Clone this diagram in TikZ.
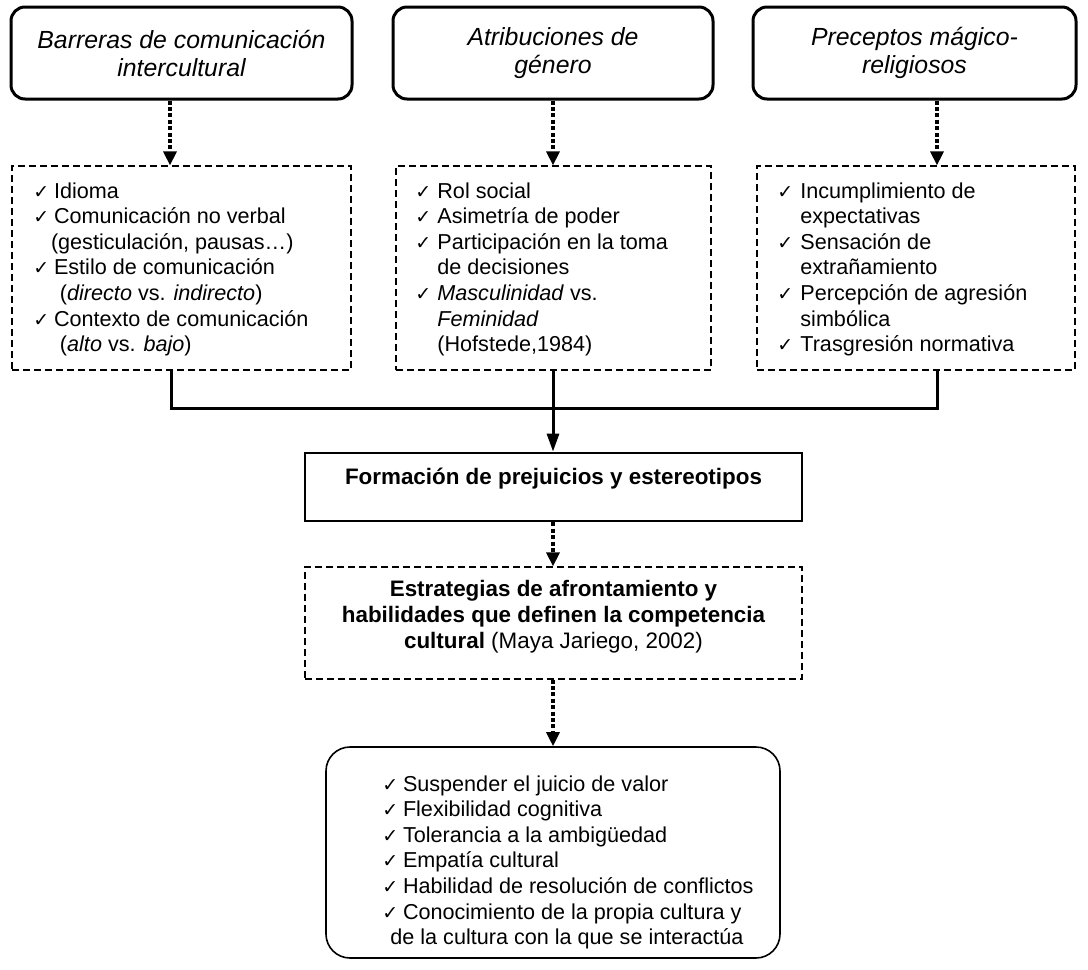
\documentclass[tikz,border=0pt]{standalone}
\usepackage{fontspec}
\setmainfont{Liberation Sans}
\newfontfamily\symfont{DejaVu Sans}
\usetikzlibrary{arrows.meta}
\newcommand{\ck}{\makebox[10.3pt][l]{\symfont\fontsize{9.5}{9.5}\selectfont ✓}}
\begin{document}
\begin{tikzpicture}[x=0.5pt,y=-0.5pt,
  titlebox/.style={draw, line width=1.5pt, rounded corners=7pt, inner sep=0pt, align=center,
    font=\fontsize{12.4}{14}\selectfont\itshape},
  listbox/.style={draw, line width=0.6pt, dash pattern=on 3.5pt off 2pt, inner sep=0pt},
  listtext/.style={inner sep=0pt, anchor=base west, font=\fontsize{10.8}{12.8}\selectfont},
  formbox/.style={draw, line width=1.4pt, inner sep=0pt},
  compbox/.style={draw, line width=0.8pt, rounded corners=12pt, inner sep=0pt},
  boldtext/.style={inner sep=0pt, align=center, font=\fontsize{11.2}{13}\selectfont\bfseries},
  dotarrow/.style={line width=1.6pt, dash pattern=on 2pt off 1.2pt, -{Triangle[width=6.5pt,length=7pt]}},
  conn/.style={line width=1.5pt},
  connarrow/.style={line width=1.5pt, -{Triangle[width=6pt,length=9pt]}}
]
\useasboundingbox (0,0) rectangle (1088,970);

% top title boxes
\node[titlebox, minimum width=170.5pt, minimum height=46pt] (t1) at (181.5,53) {Barreras de comunicación\\intercultural};
\node[titlebox, minimum width=160pt, minimum height=46pt] (t2) at (553,53) {Atribuciones de\\género};
\node[titlebox, minimum width=161.5pt, minimum height=46pt] (t3) at (914.5,53) {Preceptos mágico-\\religiosos};

% dashed list boxes
\node[listbox, minimum width=169.5pt, minimum height=102pt] (l1) at (181.5,268) {};
\node[listbox, minimum width=157.5pt, minimum height=102pt] (l2) at (553.5,268) {};
\node[listbox, minimum width=159pt, minimum height=102pt] (l3) at (916,268) {};

\node[listtext] (l1t) at (33,198) {\begin{tabular}[t]{@{}l@{}l@{}}
\ck & Idioma\\
\ck & Comunicación no verbal\\
 & \hspace{-1.5pt}(gesticulación, pausas…)\\
\ck & Estilo de comunicación\\
 & \hspace{3pt}(\textit{directo} vs. \textit{indirecto})\\
\ck & Contexto de comunicación\\
 & \hspace{3pt}(\textit{alto} vs. \textit{bajo})
\end{tabular}};

\node[listtext] (l2t) at (415,198) {\begin{tabular}[t]{@{}l@{\hspace{0.7pt}}l@{}}
\ck & Rol social\\
\ck & Asimetría de poder\\
\ck & Participación en la toma\\
 & de decisiones\\
\ck & \textit{Masculinidad} vs.\\
 & \textit{Feminidad}\\
 & (Hofstede,1984)
\end{tabular}};

\node[listtext] (l3t) at (777,198) {\begin{tabular}[t]{@{}l@{\hspace{1.2pt}}l@{}}
\ck & Incumplimiento de\\
 & expectativas\\
\ck & Sensación de\\
 & extrañamiento\\
\ck & Percepción de agresión\\
 & simbólica\\
\ck & Trasgresión normativa
\end{tabular}};

% central boxes
\node[formbox, minimum width=248.5pt, minimum height=34pt] (f) at (553.5,487) {};
\node[boldtext] (ft) at (553.5,479) {Formación de prejuicios y estereotipos};

\node[listbox, minimum width=248.5pt, minimum height=56pt] (e) at (553.5,623) {};
\node[boldtext] (et) at (553.5,617) {Estrategias de afrontamiento y\\habilidades que definen la competencia\\cultural \mdseries(Maya Jariego, 2002)};

% bottom box
\node[compbox, minimum width=227pt, minimum height=105.5pt] (c) at (553,852.5) {};
\node[listtext] (ct) at (382,791) {\begin{tabular}[t]{@{}l@{}l@{}}
\ck & Suspender el juicio de valor\\
\ck & Flexibilidad cognitiva\\
\ck & Tolerancia a la ambigüedad\\
\ck & Empatía cultural\\
\ck & Habilidad de resolución de conflictos\\
\ck & Conocimiento de la propia cultura y\\
\multicolumn{2}{@{}l@{}}{\hspace{4pt}de la cultura con la que se interactúa}
\end{tabular}};

% connectors
\coordinate (a1) at (170,0);
\coordinate (a2) at (553,0);
\coordinate (a3) at (937,0);
\coordinate (j1) at (171,408);
\coordinate (j3) at (937,408);

\draw[dotarrow] (t1.south -| a1) -- (l1.north -| a1);
\draw[dotarrow] (t2.south -| a2) -- (l2.north -| a2);
\draw[dotarrow] (t3.south -| a3) -- (l3.north -| a3);

\draw[conn] (l1.south -| j1) -- (j1) -- (j3) -- (l3.south -| j3);
\draw[connarrow] (l2.south -| a2) -- (f.north -| a2);

\draw[dotarrow] (f.south -| a2) -- (e.north -| a2);
\draw[dotarrow] (e.south -| a2) -- (c.north -| a2);
\end{tikzpicture}
\end{document}
